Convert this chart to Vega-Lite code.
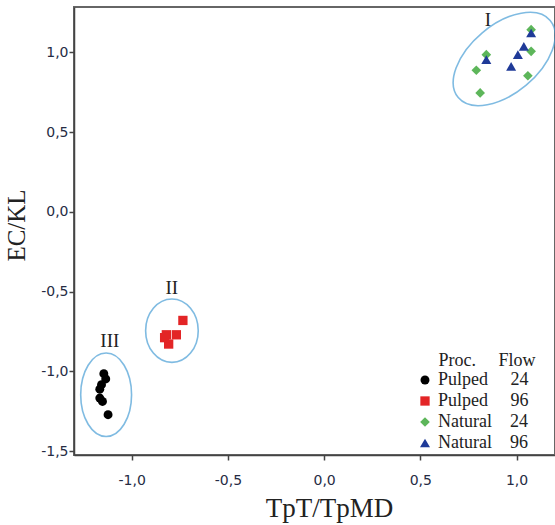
{
  "$schema": "https://vega.github.io/schema/vega-lite/v6.json",
  "width": 481,
  "height": 448,
  "autosize": {"type": "none"},
  "padding": {"left": 74, "top": 7, "right": 0, "bottom": 70},
  "background": "white",
  "datasets": {
    "pts": [
      {"x": -1.145, "y": -1.015, "group": "P24"},
      {"x": -1.135, "y": -1.048, "group": "P24"},
      {"x": -1.157, "y": -1.084, "group": "P24"},
      {"x": -1.166, "y": -1.112, "group": "P24"},
      {"x": -1.166, "y": -1.168, "group": "P24"},
      {"x": -1.152, "y": -1.189, "group": "P24"},
      {"x": -1.123, "y": -1.272, "group": "P24"},
      {"x": -0.734, "y": -0.681, "group": "P96"},
      {"x": -0.820, "y": -0.771, "group": "P96"},
      {"x": -0.768, "y": -0.771, "group": "P96"},
      {"x": -0.808, "y": -0.829, "group": "P96"},
      {"x": -0.829, "y": -0.789, "group": "P96"},
      {"x": 1.076, "y": 1.143, "group": "N24"},
      {"x": 1.076, "y": 1.007, "group": "N24"},
      {"x": 0.843, "y": 0.986, "group": "N24"},
      {"x": 0.791, "y": 0.888, "group": "N24"},
      {"x": 1.059, "y": 0.854, "group": "N24"},
      {"x": 0.811, "y": 0.746, "group": "N24"},
      {"x": 1.076, "y": 1.122, "group": "N96"},
      {"x": 1.038, "y": 1.038, "group": "N96"},
      {"x": 1.007, "y": 0.986, "group": "N96"},
      {"x": 0.972, "y": 0.913, "group": "N96"},
      {"x": 0.843, "y": 0.955, "group": "N96"}
    ],
    "clusters": [
      {"x": 0.936, "y": 0.959, "cluster": "I", "lx": 0.851, "ly": 1.206},
      {"x": -0.791, "y": -0.745, "cluster": "II", "lx": -0.792, "ly": -0.476},
      {"x": -1.133, "y": -1.147, "cluster": "III", "lx": -1.114, "ly": -0.808}
    ]
  },
  "layer": [
    {
      "data": {"name": "clusters"},
      "transform": [{"filter": "datum.cluster == 'I'"}],
      "mark": {"type": "point", "filled": false, "stroke": "#4a9fd6", "strokeWidth": 1.6, "size": 14400, "angle": 320,
        "shape": "M -1 0 C -1 -0.315 -0.552 -0.57 0 -0.57 C 0.552 -0.57 1 -0.315 1 0 C 1 0.315 0.552 0.57 0 0.57 C -0.552 0.57 -1 0.315 -1 0 Z"},
      "encoding": {
        "x": {"field": "x", "type": "quantitative", "scale": {"domain": [-1.3, 1.2], "nice": false, "zero": false}},
        "y": {"field": "y", "type": "quantitative", "scale": {"domain": [-1.525, 1.285], "nice": false, "zero": false}}
      }
    },
    {
      "data": {"name": "clusters"},
      "transform": [{"filter": "datum.cluster == 'II'"}],
      "mark": {"type": "point", "filled": false, "stroke": "#4a9fd6", "strokeWidth": 1.6, "size": 4020,
        "shape": "M -0.83 0 C -0.83 -0.552 -0.458 -1 0 -1 C 0.458 -1 0.83 -0.552 0.83 0 C 0.83 0.552 0.458 1 0 1 C -0.458 1 -0.83 0.552 -0.83 0 Z"},
      "encoding": {
        "x": {"field": "x", "type": "quantitative"},
        "y": {"field": "y", "type": "quantitative"}
      }
    },
    {
      "data": {"name": "clusters"},
      "transform": [{"filter": "datum.cluster == 'III'"}],
      "mark": {"type": "point", "filled": false, "stroke": "#4a9fd6", "strokeWidth": 1.6, "size": 6956,
        "shape": "M -0.61 0 C -0.61 -0.552 -0.337 -1 0 -1 C 0.337 -1 0.61 -0.552 0.61 0 C 0.61 0.552 0.337 1 0 1 C -0.337 1 -0.61 0.552 -0.61 0 Z"},
      "encoding": {
        "x": {"field": "x", "type": "quantitative"},
        "y": {"field": "y", "type": "quantitative"}
      }
    },
    {
      "data": {"name": "clusters"},
      "mark": {"type": "text", "font": "Liberation Serif", "fontSize": 19, "color": "#222", "baseline": "middle", "align": "center"},
      "encoding": {
        "x": {"field": "lx", "type": "quantitative"},
        "y": {"field": "ly", "type": "quantitative"},
        "text": {"field": "cluster"}
      }
    },
    {
      "data": {"name": "pts"},
      "mark": {"type": "point", "filled": true, "opacity": 1, "strokeWidth": 0},
      "encoding": {
        "x": {"field": "x", "type": "quantitative", "title": "TpT/TpMD",
          "axis": {"values": [-1, -0.5, 0, 0.5, 1], "format": ".1f", "labelExpr": "replace(replace(datum.label, '.', ','), '−', '-')",
            "tickSize": 5, "labelPadding": 13, "titlePadding": 8, "titleFontSize": 27, "titleX": 255}},
        "y": {"field": "y", "type": "quantitative", "title": "EC/KL",
          "axis": {"values": [-1.5, -1, -0.5, 0, 0.5, 1], "format": ".1f", "labelExpr": "replace(replace(datum.label, '.', ','), '−', '-')",
            "tickSize": 5, "labelPadding": 1, "titlePadding": 11, "titleFontSize": 25, "titleY": 218}},
        "size": {"field": "group", "type": "ordinal", "legend": null,
          "scale": {"domain": ["P24", "P96", "N24", "N96"], "range": [80, 100, 150, 140]}},
        "color": {"field": "group", "type": "nominal",
          "scale": {"domain": ["P24", "P96", "N24", "N96"], "range": ["#000000", "#e32526", "#5db65a", "#1f3a98"]},
          "legend": {
            "title": "\u200b\u2002\u2002\u00a0Proc.\u2002\u2002\u00a0Flow",
            "orient": "none", "legendX": 342, "legendY": 345, "padding": 0,
            "titleFont": "Liberation Serif", "titleFontSize": 18, "titleFontWeight": "normal", "titleColor": "#222", "titlePadding": 1,
            "labelFont": "Liberation Serif", "labelFontSize": 18, "labelColor": "#222", "labelOffset": 4,
            "symbolSize": 110, "rowPadding": 3,
            "labelExpr": "datum.value == 'P24' ? 'Pulped\u2002\u2002\u00a024' : datum.value == 'P96' ? 'Pulped\u2002\u2002\u00a096' : datum.value == 'N24' ? 'Natural\u2002\u00a0\u00a024' : 'Natural\u2002\u00a0\u00a096'"
          }},
        "shape": {"field": "group", "type": "nominal",
          "scale": {"domain": ["P24", "P96", "N24", "N96"], "range": ["circle", "square", "diamond", "triangle-up"]}}
      }
    }
  ],
  "config": {
    "view": {"stroke": "#666", "strokeWidth": 2},
    "axis": {"grid": false, "domainColor": "#444", "domainWidth": 1.5, "tickColor": "#444", "tickWidth": 1.5,
      "labelFont": "DejaVu Sans", "labelFontSize": 14, "labelColor": "#262c44",
      "titleFont": "Liberation Serif", "titleFontWeight": "normal", "titleColor": "#222"}
  }
}
